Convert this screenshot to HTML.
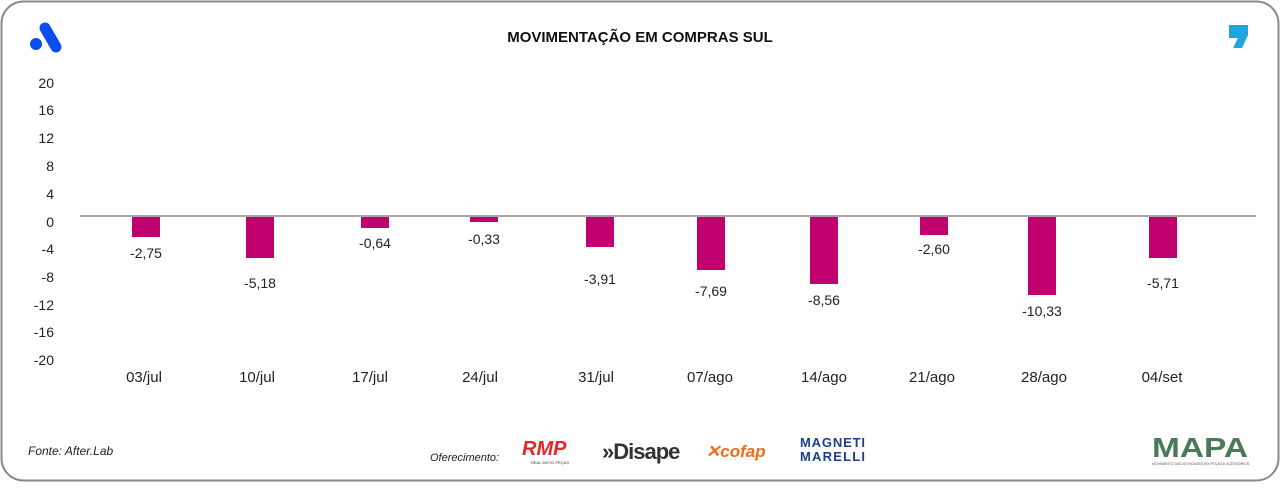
<!DOCTYPE html>
<html><head><meta charset="utf-8"><style>
body{margin:0;background:#fff;width:1280px;height:483px;overflow:hidden;font-family:"Liberation Sans",sans-serif;}
</style></head><body>
<svg width="1280" height="483" xmlns="http://www.w3.org/2000/svg" font-family="Liberation Sans, sans-serif">
<rect x="1.5" y="1.5" width="1277" height="479" rx="22" fill="#fff" stroke="#8a8a8a" stroke-width="2"/>
<text x="640" y="42" text-anchor="middle" font-size="15" font-weight="bold" fill="#111">MOVIMENTAÇÃO EM COMPRAS SUL</text>
<!-- A logo -->
<circle cx="36" cy="44" r="6" fill="#0a4ef0"/>
<line x1="45" y1="28" x2="56" y2="47" stroke="#0a4ef0" stroke-width="11" stroke-linecap="round"/>
<!-- comma logo -->
<path d="M1229 25h19v10l-6 13h-9l5-10h-9z" fill="#20a4dc"/>
<g font-size="14" fill="#222" text-anchor="end">
<text x="54" y="88">20</text><text x="54" y="115">16</text><text x="54" y="143">12</text><text x="54" y="171">8</text><text x="54" y="199">4</text><text x="54" y="227">0</text><text x="54" y="254">-4</text><text x="54" y="282">-8</text><text x="54" y="310">-12</text><text x="54" y="337">-16</text><text x="54" y="365">-20</text>
</g>
<g fill="#c0006e">
<rect x="132" y="217" width="28" height="20"/>
<rect x="246" y="217" width="28" height="41"/>
<rect x="361" y="217" width="28" height="11"/>
<rect x="470" y="217" width="28" height="5"/>
<rect x="586" y="217" width="28" height="30"/>
<rect x="697" y="217" width="28" height="53"/>
<rect x="810" y="217" width="28" height="67"/>
<rect x="920" y="217" width="28" height="18"/>
<rect x="1028" y="217" width="28" height="78"/>
<rect x="1149" y="217" width="28" height="41"/>
</g>
<line x1="80" y1="216" x2="1256" y2="216" stroke="#8a8a8a" stroke-width="1.5"/>
<g font-size="14" fill="#222" text-anchor="middle">
<text x="146" y="258">-2,75</text><text x="260" y="288">-5,18</text><text x="375" y="248">-0,64</text><text x="484" y="244">-0,33</text><text x="600" y="284">-3,91</text><text x="711" y="296">-7,69</text><text x="824" y="305">-8,56</text><text x="934" y="254">-2,60</text><text x="1042" y="316">-10,33</text><text x="1163" y="288">-5,71</text>
</g>
<g font-size="15" fill="#222" text-anchor="middle">
<text x="144" y="382">03/jul</text><text x="257" y="382">10/jul</text><text x="370" y="382">17/jul</text><text x="480" y="382">24/jul</text><text x="596" y="382">31/jul</text><text x="710" y="382">07/ago</text><text x="824" y="382">14/ago</text><text x="932" y="382">21/ago</text><text x="1044" y="382">28/ago</text><text x="1162" y="382">04/set</text>
</g>
<text x="28" y="455" font-size="12" font-style="italic" fill="#222">Fonte: After.Lab</text>
<text x="430" y="461" font-size="11" font-style="italic" fill="#222">Oferecimento:</text>
<text x="522" y="455" font-size="20" font-weight="bold" font-style="italic" fill="#e8252a">RMP</text>
<text x="531" y="464" font-size="4" fill="#333">REAL MOTO PEÇAS</text>
<text x="602" y="459" font-size="22" font-weight="bold" fill="#333" letter-spacing="-1">»Disape</text>
<text x="706" y="457" font-size="17" font-weight="bold" font-style="italic" fill="#f26a1b">✕cofap</text>
<text x="800" y="447" font-size="13" font-weight="bold" fill="#1c3f8c" textLength="65">MAGNETI</text>
<text x="800" y="461" font-size="13" font-weight="bold" fill="#1c3f8c" textLength="65">MARELLI</text>
<text x="1152" y="457" font-size="28" font-weight="bold" fill="#4b7a5a" textLength="96" lengthAdjust="spacingAndGlyphs">MAPA</text>
<text x="1152" y="465" font-size="3.5" fill="#555">MOVIMENTO DAS ATIVIDADES EM PEÇAS E ACESSÓRIOS</text>
</svg>
</body></html>
